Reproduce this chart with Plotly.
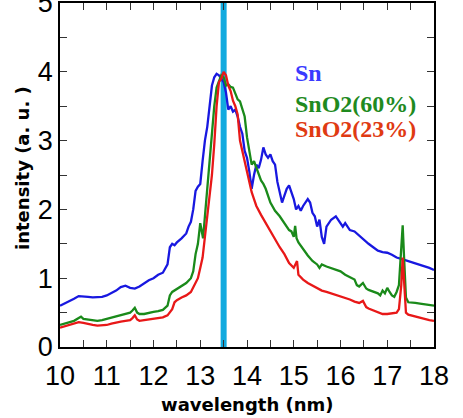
import plotly.graph_objects as go

# ---------------- data ----------------
SERIES_NAMES = ["Sn", "SnO2(60%)", "SnO2(23%)"]

sn_x = [10.0, 10.1, 10.2, 10.3, 10.4, 10.5, 10.6, 10.7, 10.8, 10.9, 11.0, 11.1, 11.2, 11.3, 11.4,
        11.5, 11.6, 11.7, 11.8, 11.9, 12.0, 12.1, 12.2, 12.25, 12.3, 12.35, 12.4, 12.45, 12.5, 12.6,
        12.7, 12.75, 12.8, 12.85, 12.9, 12.95, 13.0, 13.05, 13.1, 13.15, 13.2, 13.25, 13.3, 13.35,
        13.4, 13.45, 13.5, 13.55, 13.6, 13.65, 13.7, 13.75, 13.8, 13.85, 13.9, 13.95, 14.0, 14.05,
        14.1, 14.15, 14.2, 14.25, 14.3, 14.35, 14.4, 14.45, 14.5, 14.55, 14.6, 14.65, 14.7, 14.75,
        14.8, 14.85, 14.9, 14.95, 15.0, 15.05, 15.1, 15.15, 15.2, 15.3, 15.35, 15.4, 15.45, 15.5,
        15.55, 15.6, 15.65, 15.7, 15.8, 15.9, 16.0, 16.05, 16.1, 16.2, 16.3, 16.4, 16.5, 16.6, 16.7,
        16.8, 16.9, 17.0, 17.1, 17.2, 17.3, 17.4, 17.5, 17.6, 17.7, 17.8, 17.9, 18.0]
sn_y = [0.60, 0.63, 0.67, 0.70, 0.74, 0.74, 0.73, 0.72, 0.72, 0.73, 0.75, 0.78, 0.82, 0.87, 0.89,
        0.86, 0.85, 0.88, 0.93, 0.97, 1.00, 1.05, 1.08, 1.15, 1.20, 1.45, 1.50, 1.48, 1.52, 1.58,
        1.65, 1.75, 1.82, 2.00, 2.27, 2.33, 2.37, 2.70, 3.00, 3.20, 3.55, 3.80, 3.92, 3.97,
        3.95, 3.90, 3.85, 3.70, 3.45, 3.50, 3.42, 3.45, 3.35, 3.20, 3.10, 2.85, 2.75, 2.55,
        2.30, 2.50, 2.65, 2.60, 2.72, 2.90, 2.80, 2.75, 2.80, 2.70, 2.65, 2.40, 2.25, 2.10,
        2.20, 2.30, 2.35, 2.25, 2.15, 2.00, 2.05, 1.98, 2.05, 2.15, 2.10, 1.95, 1.90, 1.75,
        1.85, 1.60, 1.50, 1.75, 1.85, 1.90, 1.80, 1.75, 1.80, 1.70, 1.68, 1.62, 1.55, 1.50, 1.45,
        1.40, 1.38, 1.37, 1.34, 1.30, 1.28, 1.26, 1.24, 1.22, 1.20, 1.18, 1.15, 1.12]

sno2_60_x = [10.0, 10.1, 10.2, 10.3, 10.4, 10.45, 10.5, 10.6, 10.7, 10.8, 10.9, 11.0, 11.1, 11.2,
             11.3, 11.4, 11.5, 11.55, 11.6, 11.65, 11.7, 11.8, 11.9, 12.0, 12.1, 12.2, 12.3, 12.35,
             12.4, 12.5, 12.6, 12.7, 12.8, 12.85, 12.9, 12.95, 13.0, 13.03, 13.06, 13.1, 13.15,
             13.2, 13.25, 13.3, 13.35, 13.4, 13.45, 13.5, 13.55, 13.6, 13.65, 13.7, 13.75, 13.8,
             13.85, 13.9, 13.95, 14.0, 14.05, 14.1, 14.15, 14.2, 14.25, 14.3, 14.35, 14.4, 14.5,
             14.6, 14.7, 14.8, 14.9, 14.95, 15.0, 15.03, 15.06, 15.1, 15.2, 15.3, 15.4, 15.5, 15.55,
             15.6, 15.7, 15.8, 15.9, 16.0, 16.1, 16.2, 16.3, 16.35, 16.4, 16.48, 16.55, 16.6, 16.7,
             16.8, 16.85, 16.9, 16.95, 17.0, 17.05, 17.1, 17.15, 17.2, 17.25, 17.3, 17.33, 17.36,
             17.4, 17.45, 17.5, 17.6, 17.7, 17.8, 17.9, 18.0]
sno2_60_y = [0.32, 0.34, 0.36, 0.38, 0.42, 0.44, 0.41, 0.40, 0.39, 0.38, 0.39, 0.41, 0.43, 0.45,
             0.47, 0.48, 0.50, 0.53, 0.57, 0.50, 0.48, 0.48, 0.50, 0.51, 0.52, 0.54, 0.60, 0.75,
             0.80, 0.84, 0.88, 0.93, 1.00, 1.10, 1.35, 1.50, 1.80, 1.65, 1.58, 1.90, 2.30,
             2.60, 3.00, 3.50, 3.77, 3.85, 3.95, 3.92, 3.80, 3.82, 3.78, 3.77, 3.68, 3.60,
             3.57, 3.45, 3.35, 3.05, 2.85, 2.65, 2.70, 2.60, 2.50, 2.42, 2.37, 2.30, 2.10,
             1.98, 1.90, 1.80, 1.70, 1.68, 1.60, 1.76, 1.58, 1.52, 1.42, 1.33, 1.25, 1.20, 1.15,
             1.20, 1.17, 1.15, 1.12, 1.10, 1.05, 1.02, 0.98, 0.90, 0.88, 0.93, 0.85, 0.83, 0.80,
             0.78, 0.75, 0.82, 0.78, 0.86, 0.80, 0.75, 0.73, 0.80, 0.90, 1.40, 1.77, 1.30,
             0.72, 0.65, 0.65, 0.64, 0.63, 0.62, 0.61, 0.60]

sno2_23_x = [10.0, 10.1, 10.2, 10.3, 10.4, 10.5, 10.6, 10.7, 10.8, 10.9, 11.0, 11.1, 11.2, 11.3,
             11.4, 11.5, 11.55, 11.6, 11.65, 11.7, 11.8, 11.9, 12.0, 12.1, 12.2, 12.3, 12.4, 12.45,
             12.5, 12.6, 12.7, 12.8, 12.9, 12.95, 13.0, 13.05, 13.1, 13.15, 13.2, 13.25, 13.3,
             13.35, 13.4, 13.45, 13.5, 13.55, 13.6, 13.65, 13.7, 13.75, 13.8, 13.85, 13.9, 13.95,
             14.0, 14.05, 14.1, 14.15, 14.2, 14.3, 14.4, 14.5, 14.6, 14.7, 14.8, 14.9, 15.0, 15.07,
             15.1, 15.2, 15.3, 15.4, 15.5, 15.6, 15.7, 15.8, 15.9, 16.0, 16.1, 16.2, 16.3, 16.4,
             16.48, 16.55, 16.6, 16.7, 16.8, 16.9, 17.0, 17.1, 17.2, 17.25, 17.3, 17.33, 17.36,
             17.4, 17.45, 17.5, 17.6, 17.7, 17.8, 17.9, 18.0]
sno2_23_y = [0.28, 0.30, 0.32, 0.34, 0.36, 0.35, 0.33, 0.32, 0.31, 0.31, 0.32, 0.34, 0.36, 0.37,
             0.38, 0.39, 0.42, 0.46, 0.40, 0.38, 0.39, 0.40, 0.41, 0.42, 0.43, 0.46, 0.55, 0.65,
             0.68, 0.72, 0.75, 0.80, 0.92, 1.00, 1.15, 1.30, 1.60, 1.90, 2.20, 2.50, 2.95,
             3.50, 3.85, 3.90, 4.00, 3.95, 3.80, 3.72, 3.58, 3.50, 3.38, 3.00, 2.85, 2.70,
             2.55, 2.40, 2.25, 2.15, 2.05, 1.92, 1.80, 1.68, 1.58, 1.45, 1.35, 1.22, 1.15, 1.25,
             1.05, 0.98, 0.93, 0.89, 0.85, 0.82, 0.80, 0.78, 0.76, 0.74, 0.71, 0.69, 0.66, 0.64,
             0.67, 0.58, 0.56, 0.53, 0.50, 0.48, 0.48, 0.49, 0.50, 0.55, 0.90, 1.30, 0.90,
             0.50, 0.47, 0.46, 0.44, 0.42, 0.41, 0.39, 0.38]

EUV_WAVELENGTH = 13.5
X_RANGE = [10, 18]
Y_RANGE = [0, 5]
X_TITLE = "wavelength (nm)"
Y_TITLE = "intensity (a. u. )"

# ---------------- styles ----------------
LINE_COLORS = ["#1818e0", "#1a8a1a", "#e81818"]
LABEL_COLORS = ["#3a3aff", "#1f8a1f", "#e03a12"]
CYAN = "#12aadf"

fig = go.Figure()

fig.add_shape(type="line", xref="x", yref="paper", x0=EUV_WAVELENGTH, x1=EUV_WAVELENGTH,
              y0=-0.006, y1=1, line=dict(color=CYAN, width=6), layer="below")

series = [(sn_x, sn_y), (sno2_60_x, sno2_60_y), (sno2_23_x, sno2_23_y)]
for (xs, ys), name, col in zip(series, SERIES_NAMES, LINE_COLORS):
    fig.add_trace(go.Scatter(x=xs, y=ys, mode="lines", name=name,
                             line=dict(color=col, width=2.3), showlegend=False))

label_y = [0.797, 0.705, 0.633]
for name, col, yy in zip(SERIES_NAMES, LABEL_COLORS, label_y):
    fig.add_annotation(text="<b>%s</b>" % name, xref="paper", yref="paper", x=0.623, y=yy,
                       xanchor="left", yanchor="middle", showarrow=False,
                       font=dict(family="Liberation Serif", size=24, color=col))

axis_common = dict(showline=True, linecolor="black", linewidth=1.5, mirror="ticks",
                   ticks="inside", ticklen=7, tickwidth=1.3, tickcolor="#333333",
                   showgrid=False, zeroline=False, automargin=False,
                   ticklabeloverflow="allow",
                   tickfont=dict(family="Liberation Sans", size=27, color="black"))

fig.update_xaxes(range=X_RANGE, dtick=1, tick0=10, ticklabelstandoff=4,
                 minor=dict(dtick=0.5, ticks="inside", ticklen=7, tickcolor="#333333", tickwidth=1.3),
                 **axis_common)
fig.update_yaxes(range=Y_RANGE, dtick=1, tick0=0, ticklabelstandoff=0,
                 minor=dict(dtick=0.5, ticks="inside", ticklen=7, tickcolor="#333333", tickwidth=1.3),
                 **axis_common)

fig.add_annotation(text="<b>%s</b>" % X_TITLE, xref="paper", yref="paper", x=0.5, y=-0.168,
                   showarrow=False, xanchor="center", yanchor="middle",
                   font=dict(family="DejaVu Sans", size=18, color="black"))
fig.add_annotation(text="<b>%s</b>" % Y_TITLE, xref="paper", yref="paper", x=-0.102, y=0.52,
                   textangle=-90, showarrow=False, xanchor="center", yanchor="middle",
                   font=dict(family="DejaVu Sans", size=18, color="black"))

fig.update_layout(width=463, height=418, margin=dict(l=60, r=29, t=3, b=71),
                  plot_bgcolor="white", paper_bgcolor="white")

fig.write_html("out.html", config={"displayModeBar": False},
               post_script="document.body.style.margin='0';document.body.style.padding='0';")
